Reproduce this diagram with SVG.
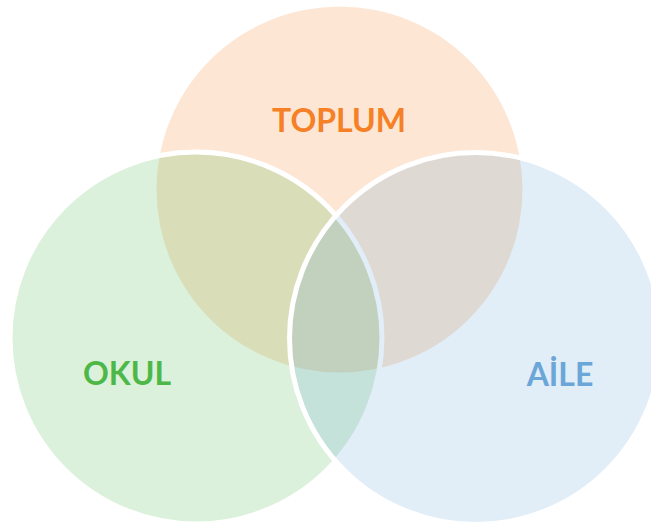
<svg xmlns="http://www.w3.org/2000/svg" width="651" height="523" viewBox="0 0 651 523">
<style>
.lbl{font-family:"Lato","Noto Sans",sans-serif;font-weight:bold;font-size:32px;text-anchor:middle}
.c{fill-opacity:0.2}
.s{stroke:#FFFFFF;stroke-width:5}
</style>
<rect width="651" height="523" fill="#FFFFFF"/>
<g id="toplum">
<circle class="c" cx="339.5" cy="189.5" r="183" fill="#F5822A"/>
<text class="lbl" x="339" y="131.5" fill="#F58026">TOPLUM</text>
</g>
<g id="okul">
<circle class="c s" cx="196" cy="338" r="186" fill="#4CB74A"/>
<text class="lbl" x="127" y="384.5" fill="#4DB848">OKUL</text>
</g>
<g id="aile">
<circle class="c s" cx="475.5" cy="338.5" r="186" fill="#6AA6D8"/>
<text class="lbl" x="560" y="386" fill="#6AA6D8">AİLE</text>
</g>
<g id="connectors"/>
</svg>
